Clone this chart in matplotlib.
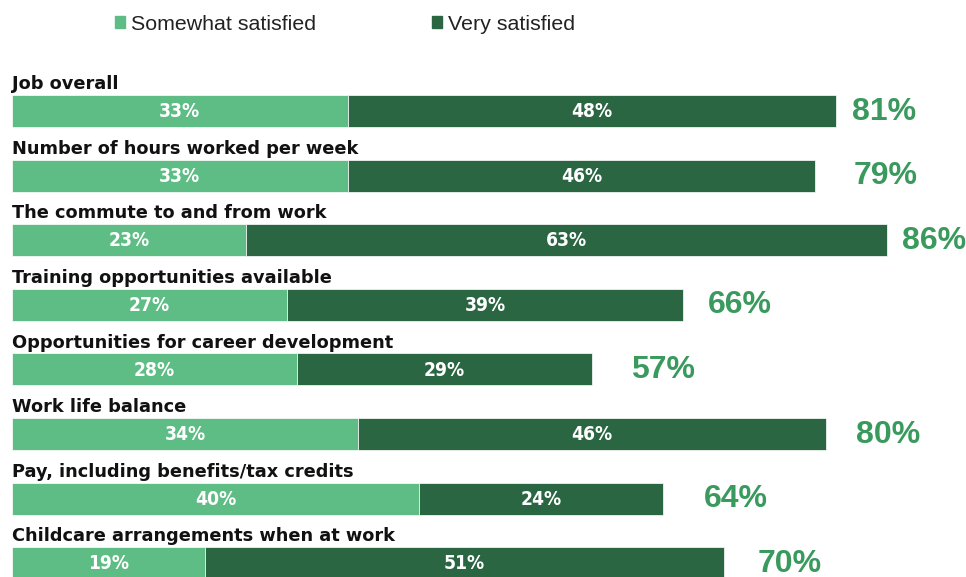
import matplotlib.pyplot as plt
from matplotlib.patches import Patch

# satisfaction with job aspects (%)
categories = [
    "Job overall",
    "Number of hours worked per week",
    "The commute to and from work",
    "Training opportunities available",
    "Opportunities for career development",
    "Work life balance",
    "Pay, including benefits/tax credits",
    "Childcare arrangements when at work",
]
somewhat = [33, 33, 23, 27, 28, 34, 40, 19]
very = [48, 46, 63, 39, 29, 46, 24, 51]
totals = [81, 79, 86, 66, 57, 80, 64, 70]

# gap between bar end and the total label, in pixels
total_gap = [16, 38, 15, 25, 39, 30, 41, 34]

light = "#5ebd84"
dark = "#2a6642"
total_col = "#3a9a5e"

plt.rcParams['font.family'] = ['Liberation Sans', 'DejaVu Sans']

fig = plt.figure(figsize=(9.66, 5.77), dpi=100)
ax = fig.add_axes([0, 0, 1, 1])

pxw = 10.17   # pixels per percent
rowh = 64.6   # pixels per row
ax.set_xlim(-12 / pxw, (966 - 12) / pxw)
ax.set_ylim((577 - 111) / rowh, -111 / rowh)
ax.axis('off')

rows = range(len(categories))
h = 0.495
ax.barh(rows, somewhat, height=h, color=light, edgecolor='white', linewidth=0.5)
ax.barh(rows, very, left=somewhat, height=h, color=dark, edgecolor='white', linewidth=0.5)

for i in rows:
    ax.text(0, i - h / 2 - 0.09, categories[i], ha='left', va='baseline',
            fontsize=12.8, fontweight='bold', color='#111111', family='DejaVu Sans')
    for x, v in [(somewhat[i] / 2, somewhat[i]), (somewhat[i] + very[i] / 2, very[i])]:
        ax.text(x, i + 0.01, f"{v}%", ha='center', va='center', fontsize=13.8,
                fontweight='bold', fontstretch='condensed', color='white',
                family='DejaVu Sans')
    ax.text(somewhat[i] + very[i] + total_gap[i] / pxw, i + 0.01, f"{totals[i]}%",
            ha='left', va='center', fontsize=23, fontweight='bold', color=total_col)

handles = [Patch(color=light, label='Somewhat satisfied'),
           Patch(color=dark, label='Very satisfied')]
fig.legend(handles=handles, loc='center left', bbox_to_anchor=(115 / 966, 1 - 24 / 577),
           ncol=2, frameon=False, fontsize=15.4, handlelength=0.47, handleheight=0.47,
           handletextpad=0.28, columnspacing=5.4, borderpad=0, borderaxespad=0,
           labelcolor='#222222')

fig.savefig('out.png', dpi=100)
